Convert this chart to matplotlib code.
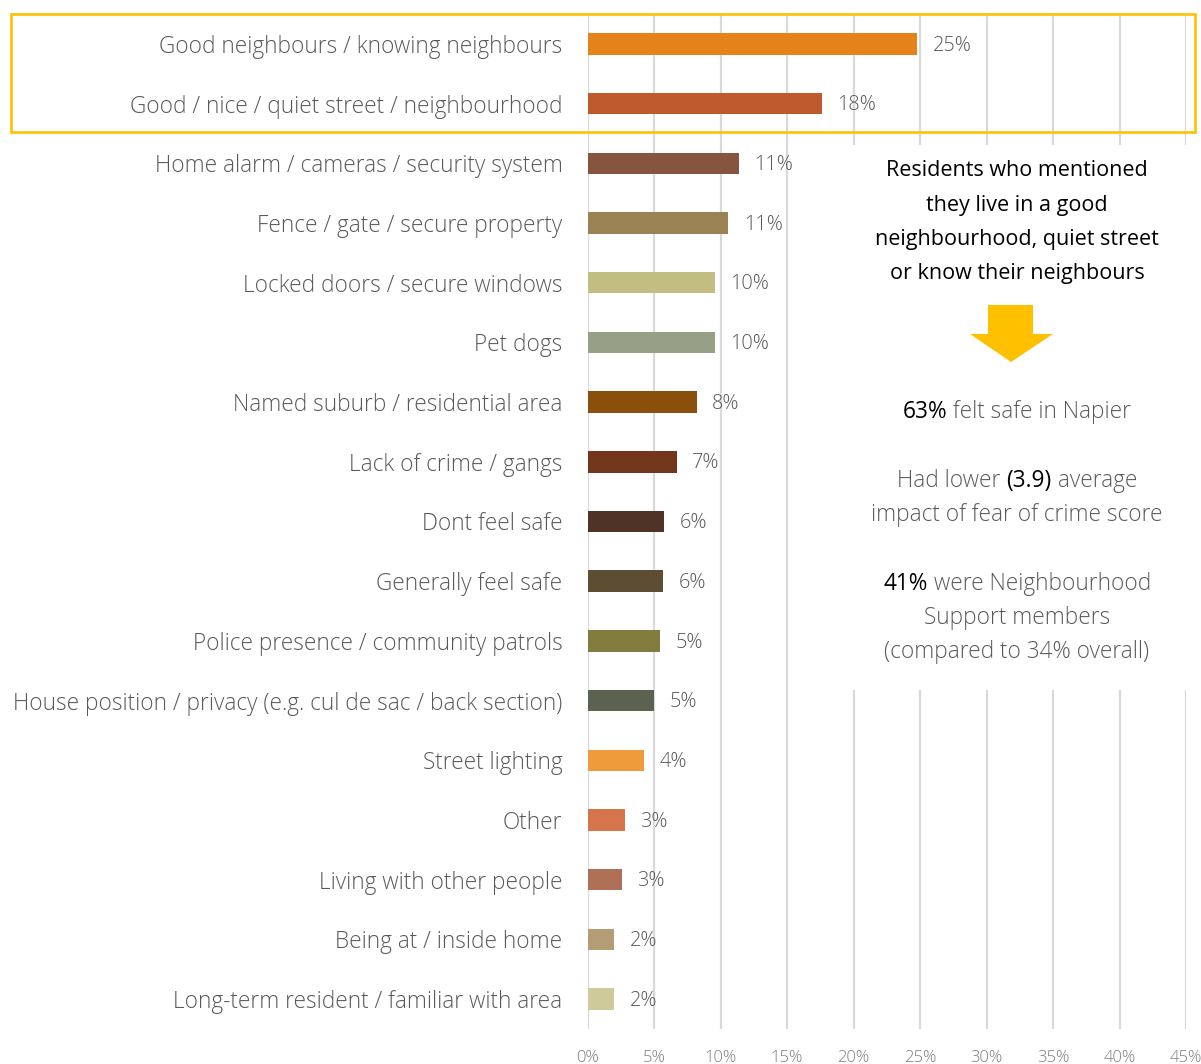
import numpy as np
import matplotlib.pyplot as plt
from matplotlib.patches import Rectangle, Polygon

plt.rcParams['font.family'] = ['Open Sans', 'DejaVu Sans']

categories = [
    "Good neighbours / knowing neighbours",
    "Good / nice / quiet street / neighbourhood",
    "Home alarm / cameras / security system",
    "Fence / gate / secure property",
    "Locked doors / secure windows",
    "Pet dogs",
    "Named suburb / residential area",
    "Lack of crime / gangs",
    "Dont feel safe",
    "Generally feel safe",
    "Police presence / community patrols",
    "House position / privacy (e.g. cul de sac / back section)",
    "Street lighting",
    "Other",
    "Living with other people",
    "Being at / inside home",
    "Long-term resident / familiar with area",
]
values = [24.8, 17.6, 11.4, 10.6, 9.6, 9.6, 8.2, 6.7, 5.75, 5.7, 5.45, 5.0, 4.25, 2.8, 2.6, 2.0, 2.0]
bar_colors = [
    "#E6821A", "#BE5A2E", "#87553F", "#9B8255", "#C2BD80", "#95A086",
    "#8B4F0D", "#73361B", "#4E3326", "#5D4D33", "#827D3E", "#5B6350",
    "#EF9B3C", "#D6744B", "#AE7157", "#B39C76", "#CFCA9A",
]
x_ticks = [0, 5, 10, 15, 20, 25, 30, 35, 40, 45]

W, H = 1201, 1064
GREY = "#595959"


def fx(px):
    return px / W


def fy(py):
    return 1 - py / H


fig = plt.figure(figsize=(W / 100, H / 100), dpi=100)
ax = fig.add_axes([fx(587.5), fy(1029), (1186 - 587.5) / W, (1029 - 14) / H])

pos = np.arange(len(categories))
ax.barh(pos, values, height=0.36, color=bar_colors, zorder=2)
for i, v in enumerate(values):
    ax.annotate(f"{v:.0f}%", (v, i), xytext=(11, -1.2), textcoords="offset points",
                va="center", ha="left", fontsize=14.3, color=GREY, fontweight="light")

ax.set_xlim(0, 45)
ax.set_ylim(len(categories) - 0.5, -0.5)
ax.set_xticks(x_ticks, [f"{t}%" for t in x_ticks])
ax.set_yticks(pos, categories)
ax.xaxis.grid(True, color="#D9D9D9", lw=1.6)
ax.set_axisbelow(True)
for s in ax.spines.values():
    s.set_visible(False)
ax.tick_params(axis="y", length=0, pad=18, labelsize=16.3, labelcolor=GREY)
ax.tick_params(axis="x", length=0, pad=15, labelsize=12, labelcolor="#7F7F7F")
for lab in ax.get_yticklabels() + ax.get_xticklabels():
    lab.set_fontweight("light")

# highlight frame round the two neighbourhood rows
fig.add_artist(Rectangle((fx(11), fy(132)), (1195 - 11) / W, (132 - 14) / H,
                         fill=False, edgecolor="#FFC000", lw=1.9, zorder=5))

# white panel for the side note
fig.add_artist(Rectangle((fx(845), fy(690)), (1197 - 845) / W, (690 - 145) / H,
                         facecolor="white", edgecolor="none", zorder=3))

xc = 1017
for yy, line in zip([171, 205, 239, 273],
                    ["Residents who mentioned", "they live in a good",
                     "neighbourhood, quiet street", "or know their neighbours"]):
    fig.text(fx(xc), fy(yy), line, ha="center", va="center", fontsize=15.5,
             color="black", zorder=6)

# down arrow
arrow = [(988, 305), (1033, 305), (1033, 334), (1053, 334), (1011, 362),
         (970, 334), (988, 334)]
fig.add_artist(Polygon([(fx(x), fy(y)) for x, y in arrow], closed=True,
                       facecolor="#FFC000", edgecolor="none", zorder=6))

renderer = fig.canvas.get_renderer()


def mixed_line(parts, yy, size=16.3):
    texts = []
    for s, c, w in parts:
        texts.append(fig.text(0, fy(yy), s, ha="left", va="center", fontsize=size,
                              color=c, fontweight=w, zorder=6))
    widths = [t.get_window_extent(renderer).width for t in texts]
    x = xc - sum(widths) / 2
    for t, w in zip(texts, widths):
        t.set_x(fx(x))
        x += w


mixed_line([("63%", "black", "normal"), ("\u00a0felt safe in Napier", GREY, "light")], 412)
mixed_line([("Had lower\u00a0", GREY, "light"), ("(3.9)", "black", "normal"),
            ("\u00a0average", GREY, "light")], 481)
mixed_line([("impact of fear of crime score", GREY, "light")], 515)
mixed_line([("41%", "black", "normal"), ("\u00a0were Neighbourhood", GREY, "light")], 584)
mixed_line([("Support members", GREY, "light")], 618)
mixed_line([("(compared to 34% overall)", GREY, "light")], 652)

fig.savefig("out.png", dpi=100)
